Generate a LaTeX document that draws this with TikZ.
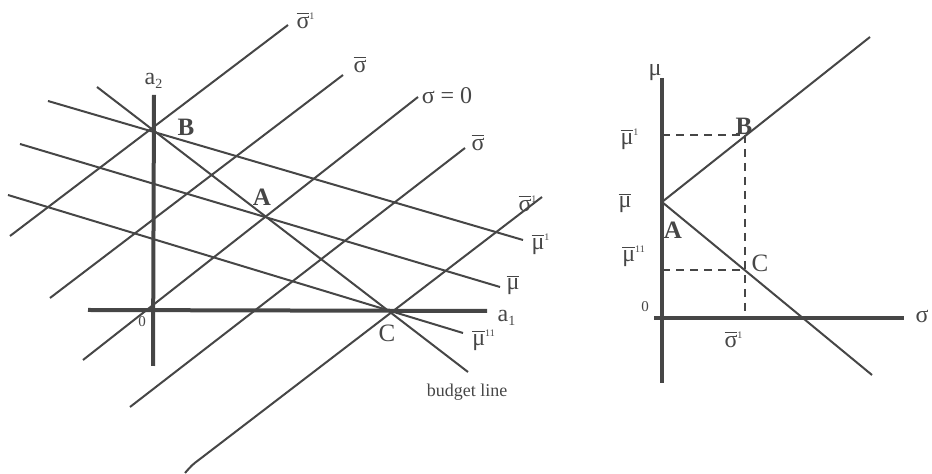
\documentclass[tikz,border=0pt]{standalone}
\usepackage{fontspec}
\setmainfont{Liberation Serif}
\usetikzlibrary{positioning}
\definecolor{ink}{HTML}{464646}
\newcommand{\ovl}[1]{$\overline{\mbox{#1}}$}

\begin{document}
\begin{tikzpicture}[
  x=0.5pt, y=-0.5pt,
  font=\fontsize{12}{14}\selectfont,
  axis/.style={draw=ink, line width=2pt},
  locus/.style={draw=ink, line width=1pt},
  guide/.style={draw=ink, line width=0.9pt, dash pattern=on 4pt off 3pt},
  lab/.style={inner sep=0pt, text=ink},
  pt/.style={coordinate}
]
\useasboundingbox (0,0) rectangle (932,474);

% left panel: action space
\coordinate (O) at (153,310);
\coordinate (a2top) at (154,95);
\coordinate (a2bot) at (153,366);
\coordinate (a1lft) at (88,310);
\coordinate (a1rgt) at (487,311);
\coordinate (B) at (153,129);
\coordinate (A) at (268,216);
\coordinate (C) at (392,310);

\coordinate (s1a) at (10,236);   \coordinate (s1b) at (288,25);
\coordinate (sba) at (50,298);   \coordinate (sbb) at (343,75);
\coordinate (s0a) at (83,360);   \coordinate (s0b) at (418,97);
\coordinate (sca) at (130,407);  \coordinate (scb) at (465,148);
\coordinate (sda) at (185,473);  \coordinate (sdk) at (200,459);
\coordinate (sdb) at (542,197);
\coordinate (m1a) at (48,101);   \coordinate (m1b) at (523,240);
\coordinate (mba) at (20,144);   \coordinate (mbb) at (500,287);
\coordinate (m2a) at (8,195);    \coordinate (m2b) at (463,333);
\coordinate (bla) at (97,87);    \coordinate (blb) at (468,372);

\draw[locus] (s1a) -- (s1b);
\draw[locus] (sba) -- (sbb);
\draw[locus] (s0a) -- (s0b);
\draw[locus] (sca) -- (scb);
\draw[locus] (sdb) -- (sdk) .. controls (192,465) .. (sda);
\draw[locus] (m1a) -- (m1b);
\draw[locus] (mba) -- (mbb);
\draw[locus] (m2a) -- (m2b);
\draw[locus] (bla) -- (blb);
\draw[axis] (a2top) -- (a2bot);
\draw[axis] (a1lft) -- (a1rgt);

\node[lab] (la2) at (154,81) {a\textsubscript{\scriptsize 2}};
\node[lab] (la1) at (507,318) {a\textsubscript{\scriptsize 1}};
\node[lab, font=\fontsize{7.5}{8}\selectfont] (lO) at (142,322) {0};
\node[lab, font=\fontsize{12.5}{14}\selectfont\bfseries] (lB) at (186,127) {B};
\node[lab, font=\fontsize{12.5}{14}\selectfont\bfseries] (lA) at (262,197) {A};
\node[lab, font=\fontsize{12.5}{14}\selectfont] (lC) at (387,333) {C};
\node[lab] (ls1) at (306,20) {\ovl{σ}\textsuperscript{\tiny 1}};
\node[lab] (lsb) at (360,64) {\ovl{σ}};
\node[lab] (ls0) at (447,96) {σ = 0};
\node[lab] (lsc) at (478,142) {\ovl{σ}};
\node[lab] (lsd) at (528,203) {\ovl{σ}\textsuperscript{\tiny 1}};
\node[lab] (lm1) at (541,244) {\ovl{μ}\textsuperscript{\tiny 1}};
\node[lab] (lmb) at (513,285) {\ovl{μ}};
\node[lab] (lm2) at (484,340) {\ovl{μ}\textsuperscript{\tiny 11}};
\node[lab, font=\fontsize{9}{10}\selectfont] (lbl) at (467,392) {budget line};

% right panel: mean-variance space
\coordinate (muT) at (662,78);
\coordinate (muB) at (662,383);
\coordinate (sgL) at (654,318);
\coordinate (sgR) at (904,318);
\coordinate (RA) at (662,202);
\coordinate (RB) at (745,135);
\coordinate (RC) at (745,270);
\coordinate (up) at (870,37);
\coordinate (dn) at (872,375);
\coordinate (hB) at (662,135);
\coordinate (hC) at (662,270);
\coordinate (vB) at (745,318);

\draw[guide] (hB) -- (RB);
\draw[guide] (RB) -- (vB);
\draw[guide] (hC) -- (RC);
\draw[locus] (RA) -- (up);
\draw[locus] (RA) -- (dn);
\draw[axis] (muT) -- (muB);
\draw[axis] (sgL) -- (sgR);

\node[lab] (lmu) at (655,73) {μ};
\node[lab] (lsg) at (922,316) {σ};
\node[lab, font=\fontsize{7.5}{8}\selectfont] (lO2) at (645,307) {0};
\node[lab] (rm1) at (630,139) {\ovl{μ}\textsuperscript{\tiny 1}};
\node[lab] (rmb) at (625,203) {\ovl{μ}};
\node[lab] (rm2) at (634,256) {\ovl{μ}\textsuperscript{\tiny 11}};
\node[lab] (rs1) at (734,339) {\ovl{σ}\textsuperscript{\tiny 1}};
\node[lab, font=\fontsize{12.5}{14}\selectfont\bfseries] (rB) at (744,126) {B};
\node[lab, font=\fontsize{12.5}{14}\selectfont\bfseries] (rA) at (673,230) {A};
\node[lab, font=\fontsize{12.5}{14}\selectfont] (rC) at (760,263) {C};
\end{tikzpicture}
\end{document}
